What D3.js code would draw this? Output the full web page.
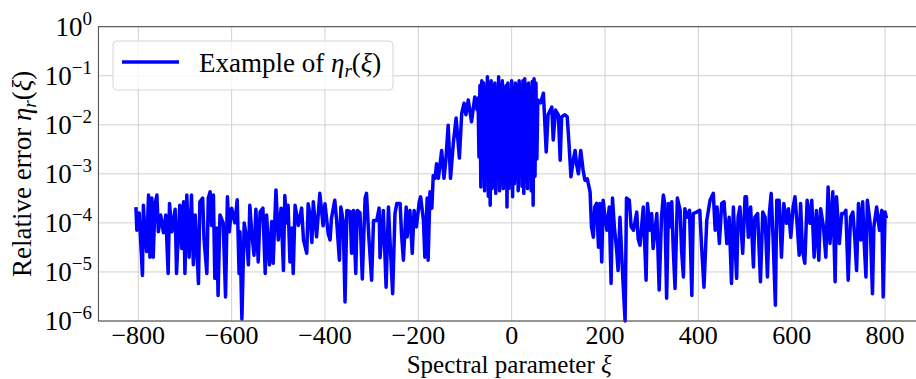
<!DOCTYPE html>
<html>
<head>
<meta charset="utf-8">
<script src="https://cdn.jsdelivr.net/npm/d3@7/dist/d3.min.js"></script>
<style>
  body { margin: 0; background: #fff; }
  text { font-family: 'Liberation Serif', 'Times New Roman', serif; fill: #000; }
</style>
</head>
<body>
<svg id="chart" width="916" height="379"></svg>
<script>
// [xi, eta], left noise band
const leftBand = [
  [-805,2.1e-4],[-803,7.1e-5],[-798,1.6e-4],[-791,8.5e-6],[-789,2.3e-4],[-786,7.1e-5],[-782,2.6e-5],[-778,3.7e-4],
  [-775,2.0e-5],[-771,3.2e-4],[-768,2.0e-5],[-764,2.5e-4],[-760,3.7e-4],[-757,6.6e-5],[-752,1.45e-4],[-746,6.3e-5],
  [-741,1.45e-4],[-736,9.3e-6],[-733,2.5e-4],[-728,6.6e-5],[-721,1.9e-4],[-718,9.3e-6],[-714,6.6e-5],[-711,2.3e-4],
  [-707,3.0e-5],[-703,2.7e-4],[-700,9.3e-6],[-696,3.7e-4],[-691,2.0e-5],[-686,3.7e-4],[-682,1.4e-5],[-678,1.45e-4],
  [-671,5.8e-6],[-668,2.7e-4],[-662,3.2e-4],[-659,4.5e-5],[-653,9.3e-6],[-650,3.2e-4],[-646,4.3e-4],[-643,8.9e-5],
  [-639,3.7e-4],[-636,7.4e-6],[-632,7.9e-5],[-629,3.3e-6],[-625,1.45e-4],[-618,1.0e-4],[-613,3.1e-6],[-609,3.4e-4],
  [-605,6.6e-5],[-600,2.0e-4],[-593,1.0e-4],[-588,2.95e-4],[-584,9.3e-6],[-582,6.6e-5],[-578,1.1e-6],[-573,1.0e-4],
  [-568,5.0e-5],[-564,1.4e-5],[-561,2.3e-4],[-557,6.6e-5],[-552,2.2e-5],[-548,1.9e-4],[-543,1.6e-5],[-539,1.66e-4],
  [-533,2.0e-4],[-528,9.3e-6],[-525,1.45e-4],[-519,1.4e-5],[-514,1.07e-4],[-511,1.5e-5],[-505,4.7e-4],[-500,4.5e-5],
  [-494,2.0e-4],[-489,1.07e-5],[-486,3.6e-4],[-482,1.0e-4],[-479,2.3e-4],[-475,1.6e-5],[-471,7.9e-5],[-468,9.3e-6],
  [-464,2.3e-4],[-457,8.9e-5],[-450,2.0e-4],[-446,4.5e-5],[-439,2.4e-5],[-436,2.45e-4],[-432,1.45e-4],[-428,4.0e-5],
  [-425,2.7e-4],[-418,5.2e-5],[-411,4.0e-4],[-404,8.7e-5],[-400,2.45e-4],[-393,6.0e-5],[-389,4.5e-5],[-386,1.26e-4],
  [-379,2.9e-4],[-375,1.12e-4],[-369,1.74e-5],[-366,2.1e-4],[-361,1.12e-4],[-357,2.45e-6],[-353,1.8e-4],[-346,1.7e-4],
  [-343,2.4e-5],[-339,1.8e-4],[-334,9.3e-6],[-331,1.8e-4],[-325,1.6e-4],[-320,7.2e-6],[-314,3.2e-4],[-311,4.0e-4],
  [-306,5.2e-5],[-300,6.8e-6],[-296,1.12e-4],[-289,1.12e-4],[-284,2.0e-4],[-282,1.95e-5],[-275,1.8e-4],[-269,4.9e-6],
  [-264,2.1e-4],[-261,5.2e-5],[-255,3.6e-6],[-250,1.55e-4],[-246,2.5e-4],[-239,2.5e-4],[-236,6.0e-5],[-232,1.74e-5],
  [-226,2.1e-4],[-224,5.2e-5],[-218,1.8e-4],[-213,2.4e-5],[-209,1.8e-4],[-204,8.3e-5],[-198,2.7e-4],[-195,3.4e-4],
  [-189,1.12e-4],[-186,2.0e-5],[-181,3.2e-4],[-179,1.74e-5]
];

// rising flank, dense core and falling flank
const core = [
  [-175,4.3e-4],[-171,2.0e-4],[-168,9.3e-4],[-164,8.1e-4],[-161,1.6e-3],[-157,8.1e-4],[-150,3.0e-3],[-145,8.1e-4],
  [-141,1.9e-3],[-136,9.8e-3],[-131,8.1e-4],[-125,4.2e-3],[-119,1.38e-2],[-112,2.1e-3],[-107,1.7e-2],[-102,2.75e-2],
  [-98,1.6e-2],[-93,3.2e-2],[-86,1.15e-2],[-79,3.7e-2],[-74,2.0e-2],
  [-72,3.5e-2],[-70,2.2e-3],[-68,6.3e-2],[-66,5.4e-4],[-64,7.9e-2],[-62,1.0e-3],[-60,7.1e-2],[-58,4.5e-4],
  [-56,5.6e-2],[-54,7.9e-4],[-52,9.5e-2],[-50,3.5e-4],[-48,7.1e-2],[-46,2.3e-4],[-44,7.9e-2],[-42,5.0e-4],
  [-40,6.3e-2],[-38,5.6e-4],[-36,7.1e-2],[-34,4.0e-4],[-32,5.6e-2],[-30,7.9e-4],[-28,9.5e-2],[-26,4.5e-4],
  [-24,6.3e-2],[-22,6.3e-4],[-20,7.9e-2],[-18,5.0e-4],[-16,5.6e-2],[-14,7.1e-4],[-12,6.3e-2],[-10,2.1e-4],
  [-8,7.1e-2],[-6,5.0e-4],[-4,5.0e-2],[-2,6.3e-4],[0,7.9e-2],[2,3.4e-4],[4,5.6e-2],[6,6.3e-4],
  [8,7.1e-2],[10,7.9e-4],[12,6.3e-2],[14,4.5e-4],[16,7.9e-2],[18,8.9e-4],[20,6.3e-2],[22,5.6e-4],
  [24,7.9e-2],[26,4.0e-4],[28,8.7e-2],[30,7.1e-4],[32,6.3e-2],[34,5.0e-4],[36,7.1e-2],[38,7.9e-4],
  [40,5.6e-2],[42,4.5e-4],[44,7.6e-2],[46,2.3e-4],[48,8.7e-2],[50,8.9e-4],[52,7.1e-2],[54,2.0e-3],[56,3.2e-2],
  [62,2.8e-2],[68,4.4e-2],[74,2.8e-3],[78,1.6e-2],[86,2.3e-2],[89,4.9e-3],[94,2.0e-2],[100,1.6e-2],
  [104,1.9e-3],[107,1.45e-2],[114,1.6e-2],[119,1.45e-2],[123,3.9e-3],[127,8.7e-4],[132,1.9e-3],[136,3.0e-3],
  [139,1.6e-3],[143,1.0e-3],[148,3.0e-3],[153,1.2e-3],[157,7.4e-4],[162,7.9e-4],[168,4.3e-4],[171,8.3e-5]
];

// right noise band
const rightBand = [
  [175,5.1e-5],[178,2.1e-4],[182,2.5e-4],[186,3.2e-5],[189,2.5e-4],[193,1.6e-5],[196,2.9e-4],[200,1.3e-4],
  [204,7.1e-5],[209,2.1e-4],[213,5.8e-6],[216,3.2e-4],[220,8.3e-5],[225,2.75e-5],[228,1.07e-5],[232,1.3e-4],
  [238,7.9e-6],[243,1.0e-6],[246,3.2e-4],[252,2.9e-4],[256,8.3e-5],[261,7.1e-5],[268,1.66e-4],[271,4.7e-5],
  [275,3.5e-5],[282,2.1e-4],[288,6.8e-6],[291,2.5e-4],[296,7.1e-5],[300,1.55e-4],[303,3.0e-5],[311,1.55e-4],
  [316,4.3e-6],[321,1.3e-4],[325,3.7e-4],[328,2.5e-4],[332,2.9e-6],[336,2.5e-4],[339,8.3e-5],[343,2.7e-4],
  [346,3.2e-5],[350,4.6e-6],[355,3.2e-4],[361,1.8e-4],[364,2.75e-5],[368,7.9e-6],[371,1.95e-4],[375,1.3e-4],
  [381,1.8e-4],[386,3.3e-6],[389,1.55e-4],[396,1.66e-4],[403,1.8e-4],[407,3.2e-5],[412,4.9e-6],[418,1.12e-4],
  [425,2.9e-4],[432,4.0e-4],[436,7.1e-5],[440,2.1e-4],[445,3.8e-5],[450,2.5e-4],[455,2.7e-4],[461,3.8e-5],
  [466,1.3e-4],[471,5.8e-6],[475,2.1e-4],[482,7.4e-6],[485,1.3e-4],[489,2.1e-4],[495,2.4e-5],[500,3.4e-4],
  [503,3.4e-4],[507,5.1e-5],[512,2.1e-4],[518,1.26e-5],[521,1.3e-4],[527,1.55e-4],[533,6.3e-6],[538,1.66e-4],
  [543,1.3e-4],[548,7.9e-6],[552,1.55e-4],[556,4.0e-4],[560,5.1e-5],[565,2.1e-6],[568,2.9e-4],[573,2.9e-4],
  [578,2.0e-5],[583,2.5e-4],[589,9.8e-5],[593,1.95e-4],[598,5.1e-5],[603,2.1e-4],[607,3.4e-4],[612,8.3e-5],
  [616,2.2e-5],[619,2.5e-4],[623,2.75e-5],[628,1.5e-5],[633,2.9e-4],[639,9.8e-5],[643,2.9e-4],[648,2.0e-5],
  [653,1.8e-4],[658,1.74e-5],[662,1.95e-4],[668,8.3e-5],[673,2.0e-5],[678,5.4e-4],[682,3.8e-5],[688,4.3e-4],
  [693,6.3e-6],[696,3.4e-4],[702,3.8e-5],[707,1.55e-4],[712,1.55e-4],[716,1.8e-4],[721,6.8e-6],[726,1.3e-4],
  [731,1.66e-4],[735,5.1e-5],[739,1.07e-5],[743,2.5e-4],[748,4.5e-5],[752,2.7e-4],[755,4.5e-5],[759,7.9e-6],
  [762,2.9e-4],[768,9.8e-5],[773,3.6e-6],[776,8.3e-5],[782,2.1e-4],[788,7.1e-5],[793,1.8e-4],[796,3.1e-6],
  [800,1.66e-4],[803,1.23e-4]
];

const xTicks = [-800, -600, -400, -200, 0, 200, 400, 600, 800];
const yTicks = [1e0, 1e-1, 1e-2, 1e-3, 1e-4, 1e-5, 1e-6];

const svg = d3.select('#chart');
const plot = { left: 98.4, right: 924, top: 26.7, bottom: 321 };

const series = leftBand.concat(core, rightBand);

const x = d3.scaleLinear().domain([-885.4, 883.4]).range([plot.left, plot.right]);
const y = d3.scaleLog().domain([1e-6, 1]).range([plot.bottom, plot.top]);

// grid
svg.append('g').selectAll('line')
  .data(xTicks).enter().append('line')
  .attr('x1', d => x(d)).attr('x2', d => x(d))
  .attr('y1', plot.top).attr('y2', plot.bottom)
  .attr('stroke', '#d0d0d0').attr('stroke-width', 1);
svg.append('g').selectAll('line')
  .data(yTicks).enter().append('line')
  .attr('x1', plot.left).attr('x2', plot.right)
  .attr('y1', d => y(d)).attr('y2', d => y(d))
  .attr('stroke', '#d0d0d0').attr('stroke-width', 1);

// the curve
const line = d3.line()
  .x(d => x(d[0]))
  .y(d => y(d[1]));
svg.append('path')
  .datum(series)
  .attr('d', line)
  .attr('fill', 'none')
  .attr('stroke', '#0000ff')
  .attr('stroke-width', 3.5)
  .attr('stroke-linejoin', 'round');

// spines
svg.append('rect')
  .attr('x', plot.left).attr('y', plot.top)
  .attr('width', plot.right - plot.left).attr('height', plot.bottom - plot.top)
  .attr('fill', 'none').attr('stroke', '#444').attr('stroke-width', 1);

// x tick labels
svg.append('g').selectAll('text')
  .data(xTicks).enter().append('text')
  .attr('x', d => x(d)).attr('y', 344)
  .attr('text-anchor', 'middle')
  .attr('font-size', 26)
  .text(d => d < 0 ? '\u2212' + Math.abs(d) : String(d));

// y tick labels 10^n
const yLabels = svg.append('g').selectAll('text')
  .data(yTicks).enter().append('text')
  .attr('x', 92).attr('y', d => y(d) + 9)
  .attr('text-anchor', 'end')
  .attr('font-size', 27);
yLabels.append('tspan').text('10');
yLabels.append('tspan')
  .attr('dy', -11)
  .attr('font-size', 19)
  .text(d => {
    const e = Math.round(Math.log10(d));
    return e < 0 ? '\u2212' + Math.abs(e) : String(e);
  });

// axis titles
const xTitle = svg.append('text')
  .attr('x', (plot.left + plot.right) / 2 - 2).attr('y', 372.5)
  .attr('text-anchor', 'middle')
  .attr('font-size', 25);
xTitle.append('tspan').text('Spectral parameter ');
xTitle.append('tspan').attr('font-style', 'italic').text('\u03be');

const yTitle = svg.append('text')
  .attr('transform', `translate(31, ${(plot.top + plot.bottom) / 2}) rotate(-90)`)
  .attr('text-anchor', 'middle')
  .attr('font-size', 27);
yTitle.append('tspan').text('Relative error ');
yTitle.append('tspan').attr('font-style', 'italic').text('\u03b7');
yTitle.append('tspan').attr('font-style', 'italic').attr('font-size', 19).attr('dy', 5).text('r');
yTitle.append('tspan').attr('dy', -5).text('(');
yTitle.append('tspan').attr('font-style', 'italic').text('\u03be');
yTitle.append('tspan').text(')');

// legend
const legend = svg.append('g');
legend.append('rect')
  .attr('x', 113).attr('y', 41)
  .attr('width', 280).attr('height', 49)
  .attr('rx', 4)
  .attr('fill', '#fff').attr('fill-opacity', 0.8)
  .attr('stroke', '#d6d6d6').attr('stroke-width', 1);
legend.append('line')
  .attr('x1', 122).attr('x2', 179)
  .attr('y1', 62).attr('y2', 62)
  .attr('stroke', '#0000ff').attr('stroke-width', 3.5);
const legendText = legend.append('text')
  .attr('x', 199).attr('y', 72)
  .attr('font-size', 27);
legendText.append('tspan').text('Example of ');
legendText.append('tspan').attr('font-style', 'italic').text('\u03b7');
legendText.append('tspan').attr('font-style', 'italic').attr('font-size', 19).attr('dy', 5).text('r');
legendText.append('tspan').attr('dy', -5).text('(');
legendText.append('tspan').attr('font-style', 'italic').text('\u03be');
legendText.append('tspan').text(')');
</script>
</body>
</html>
